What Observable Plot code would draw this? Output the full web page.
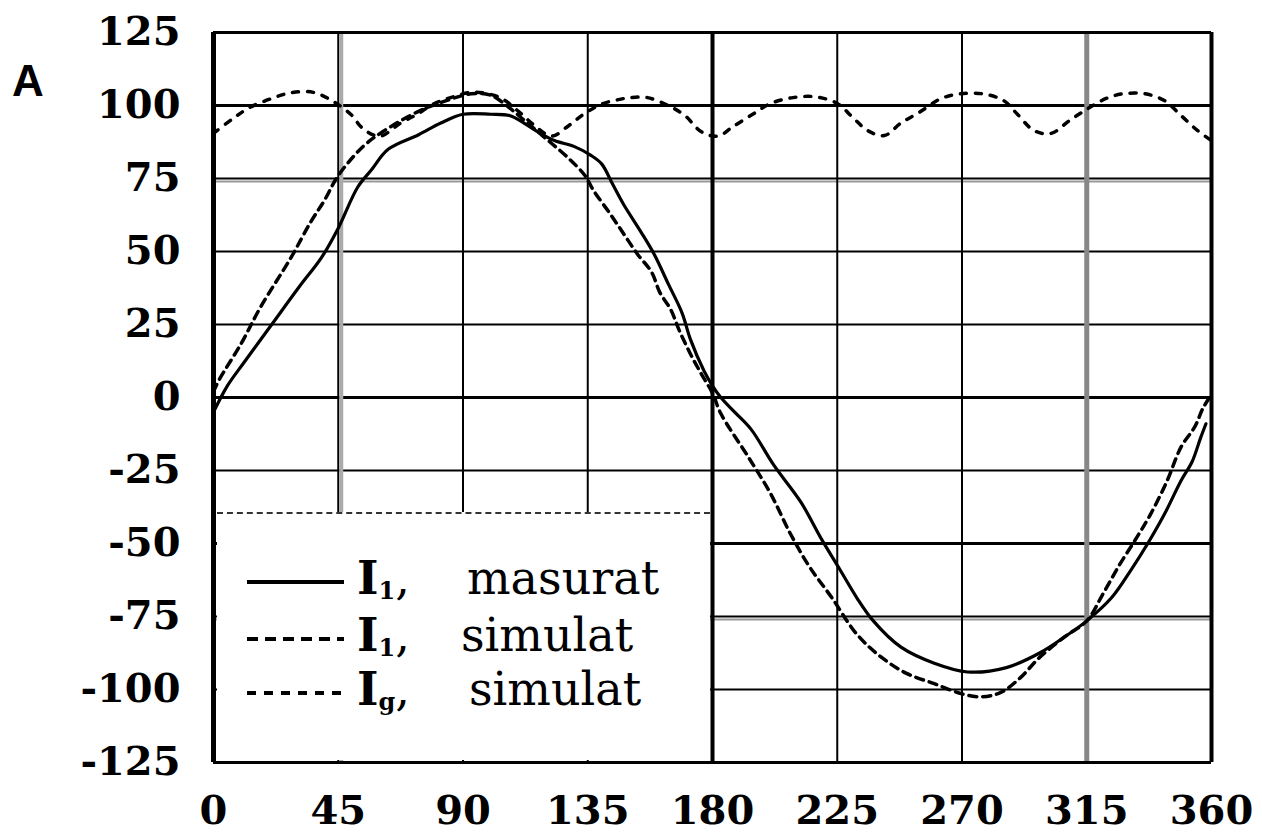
<!DOCTYPE html>
<html>
<head>
<meta charset="utf-8">
<script src="https://cdn.jsdelivr.net/npm/d3@7"></script>
<script src="https://cdn.jsdelivr.net/npm/@observablehq/plot@0.6"></script>
<style>
  body { margin: 0; background: #fff; }
  #wrap { position: relative; width: 1262px; height: 839px; overflow: hidden; }
  #panel { position: absolute; left: 12px; top: 56px; font: bold 44px "Liberation Sans", Arial, sans-serif; color: #000; }
  #legend { position: absolute; left: 217px; top: 512px; width: 493px; height: 248px; background: #fff;
            border-top: 2px dashed #333; box-sizing: border-box; }
  .row { position: absolute; left: 0; height: 54px; width: 493px; }
  .row svg { position: absolute; left: 30px; top: 0; }
  .sym { position: absolute; left: 140px; top: 0; font: bold 46px "DejaVu Serif", serif; line-height: 54px; }
  .sym sub { font-size: 24px; vertical-align: -5px; }
  .sym .c { font-weight: normal; }
  .word { position: absolute; top: 0; font: 46px "DejaVu Serif", serif; line-height: 54px; }
</style>
</head>
<body>
<div id="wrap">
  <div id="chart"></div>
  <div id="panel">A</div>
  <div id="legend"></div>
</div>
<script>
// ---- data ----
const xTicks = [0, 45, 90, 135, 180, 225, 270, 315, 360];
const yTicks = [125, 100, 75, 50, 25, 0, -25, -50, -75, -100, -125];

// I1, masurat (solid)
const i1mDeg = [0, 5, 11, 21, 31, 39, 45, 52, 57, 63, 74, 82, 90, 100, 107, 112, 117, 123, 130, 136, 140, 144, 148, 154, 159, 164, 169, 172, 177, 180, 183, 188, 194, 202, 212, 219, 226, 232, 238, 248, 260, 272, 286, 298, 307, 315, 324, 331, 337, 343, 349, 353, 356, 358];
const i1mVal = [-5, 4, 12, 25, 38, 48, 58, 72, 78, 85, 90, 94, 97, 97, 96.5, 94, 91, 88, 86, 83, 80, 73, 66, 57, 49, 39, 29, 20, 9, 4, 0, -5, -11, -23, -36, -48, -59, -68.5, -76.5, -85.5, -91, -94, -92.5, -87.5, -82, -76.5, -68.5, -59, -50, -40, -28.5, -22, -14, -9];

// I1, simulat (dashed)
const i1sDeg = [0, 2, 10, 17, 28, 35, 40, 45, 54, 61, 74, 85, 93, 100, 107, 112, 117, 122, 128, 134, 137, 143, 148, 153, 158, 161, 165, 168, 172, 176, 180, 183, 193, 201, 208, 215, 223, 232, 241, 250, 260, 270, 277, 284, 291, 298, 307, 315, 321, 327, 333, 338, 344, 349, 354, 357, 360];
const i1sVal = [2, 6, 18.5, 31, 48, 60, 67.5, 76, 86, 91, 98, 102, 104, 103.5, 99, 95, 91, 87, 82, 76, 71, 63, 56, 49, 43, 36, 30, 23, 15, 8, 1.5, -5.5, -20.5, -33, -46.5, -58, -68.5, -81, -89, -94.5, -98, -101.5, -102.5, -101, -96, -89, -82, -76.5, -67, -57, -48, -40, -28.5, -17, -10, -3.5, 1];

// Ig, simulat (short dashes)
const igDeg = [0, 7, 13, 21, 28, 36, 43, 49.5, 54, 60, 67.5, 73.5, 79.5, 85.5, 93, 99, 104, 110, 116, 122, 128, 133.5, 140, 146, 150.5, 156.5, 164, 170, 176, 182, 187, 194.5, 201, 209, 217, 225, 230.5, 236, 242, 248, 254.5, 262.5, 269.5, 277.5, 285, 290, 296, 302, 309, 315.5, 322, 328, 336, 343, 349, 355, 360];
const igVal = [90.5, 95.5, 99.3, 102.4, 104.4, 104.5, 101.5, 97, 92, 89.5, 94, 97, 100.6, 102.7, 104.5, 104, 102.4, 98, 93, 89.5, 93, 97, 100.5, 102, 102.7, 102.7, 100, 96.6, 91, 89.5, 92.5, 97, 100.7, 102.7, 103, 100.7, 96, 91.4, 89.7, 94, 97.6, 102.4, 104, 104, 101.7, 97, 91.4, 90.4, 95, 99, 102.4, 104, 104, 101.7, 96.6, 91.4, 88];

const legendLabels = [
  {sub: "1", word: "masurat"},
  {sub: "1", word: "simulat"},
  {sub: "g", word: "simulat"}
];

// ---- build tables ----
const toRows = (xs, ys) => xs.map((x, i) => ({x, y: ys[i]}));
const measured = toRows(i1mDeg, i1mVal);
const simI1 = toRows(i1sDeg, i1sVal);
const simIg = toRows(igDeg, igVal);

const chart = Plot.plot({
  width: 1262,
  height: 839,
  marginLeft: 213,
  marginRight: 51,
  marginTop: 32,
  marginBottom: 77,
  x: {domain: [0, 360], label: null},
  y: {domain: [-125, 125], label: null},
  style: {fontFamily: "'DejaVu Serif', serif", fontWeight: "bold", background: "#fff", color: "#000"},
  marks: [
    // grid
    Plot.ruleY(yTicks, {stroke: "#000", strokeWidth: 2}),
    Plot.ruleY([75, -75], {stroke: "#999", strokeWidth: 2, dy: 3}),
    Plot.ruleY([100, 0, -50], {stroke: "#000", strokeWidth: 3}),
    Plot.ruleX(xTicks, {stroke: "#000", strokeWidth: 2}),
    Plot.ruleX([45], {stroke: "#aaa", strokeWidth: 4, dx: 3}),
    Plot.ruleX([315], {stroke: "#888", strokeWidth: 5}),
    Plot.ruleX([180], {stroke: "#000", strokeWidth: 4}),
    // frame
    Plot.ruleX([0], {stroke: "#000", strokeWidth: 5}),
    Plot.ruleX([360], {stroke: "#000", strokeWidth: 4}),
    Plot.ruleY([125, -125], {stroke: "#000", strokeWidth: 3}),
    // curves
    Plot.line(simIg, {x: "x", y: "y", curve: "catmull-rom", stroke: "#000", strokeWidth: 3.5, strokeDasharray: "6,9"}),
    Plot.line(simI1, {x: "x", y: "y", curve: "catmull-rom", stroke: "#000", strokeWidth: 3.5, strokeDasharray: "8,6"}),
    Plot.line(measured, {x: "x", y: "y", curve: "catmull-rom", stroke: "#000", strokeWidth: 3.2}),
    // axes
    Plot.axisY({ticks: yTicks, tickSize: 0, tickPadding: 33, fontSize: 40, label: null, tickFormat: d => String(d)}),
    Plot.axisX({ticks: xTicks, tickSize: 0, tickPadding: 33, fontSize: 40, label: null, tickFormat: d => String(d)})
  ]
});
document.getElementById("chart").appendChild(chart);

// ---- legend overlay ----
const leg = document.getElementById("legend");
const rowTops = [37, 94, 148];
const wordLeft = [250, 244, 252];
const dashes = [null, "11,7", "9,8"];
legendLabels.forEach((d, i) => {
  const row = document.createElement("div");
  row.className = "row";
  row.style.top = rowTops[i] + "px";
  const sw = d3.create("svg").attr("width", 100).attr("height", 54);
  sw.append("line").attr("x1", 0).attr("x2", 97).attr("y1", 31).attr("y2", 31)
    .attr("stroke", "#000").attr("stroke-width", 4)
    .attr("stroke-dasharray", dashes[i]);
  row.appendChild(sw.node());
  const sym = document.createElement("div");
  sym.className = "sym";
  sym.innerHTML = `I<sub>${d.sub}</sub><span class="c">,</span>`;
  row.appendChild(sym);
  const w = document.createElement("div");
  w.className = "word";
  w.style.left = wordLeft[i] + "px";
  w.textContent = d.word;
  row.appendChild(w);
  leg.appendChild(row);
});
</script>
</body>
</html>
